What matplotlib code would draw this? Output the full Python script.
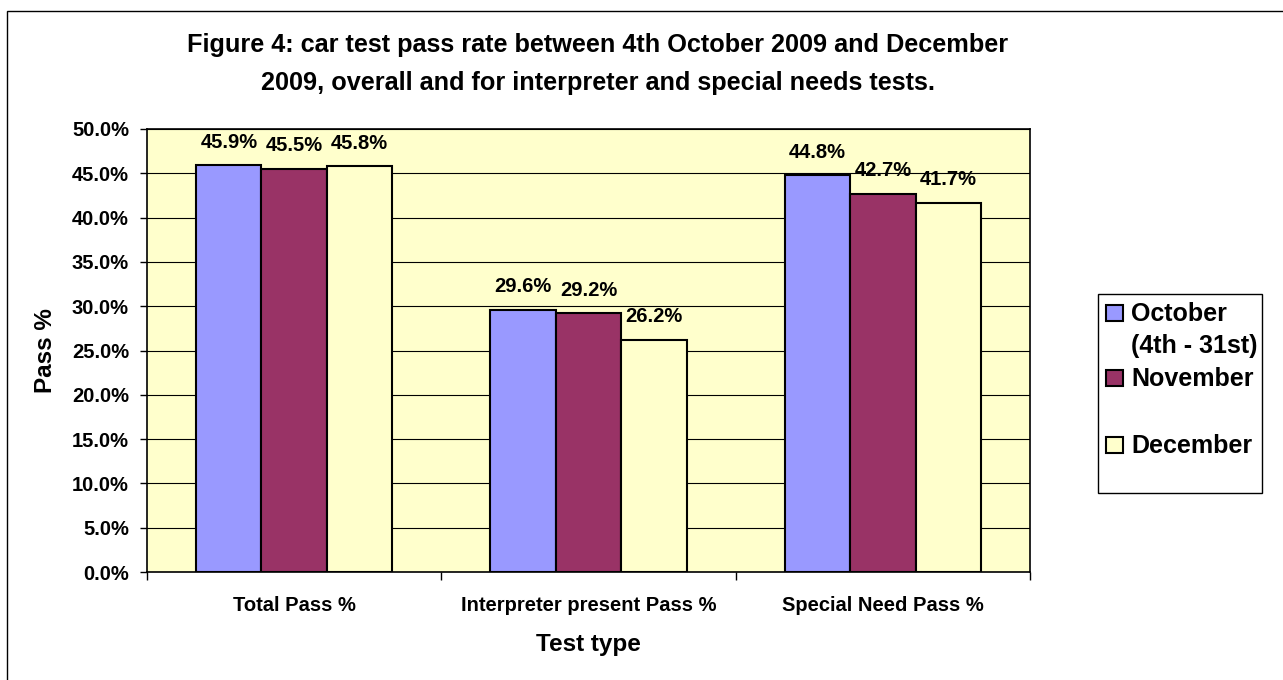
# Se importa numpy
import numpy as np

# Se importa modulo pyplot de matplotlib
import matplotlib.pyplot as plt
from matplotlib.patches import Rectangle
from matplotlib.ticker import FuncFormatter, MultipleLocator

# Fuente parecida a Arial
plt.rcParams['font.family'] = ['Liberation Sans', 'DejaVu Sans']
plt.rcParams['font.weight'] = 'bold'

# Datos
categorias = ['Total Pass %', 'Interpreter present Pass %', 'Special Need Pass %']
meses = ['October\n(4th - 31st)', 'November', 'December']
octubre = [45.9, 29.6, 44.8]
noviembre = [45.5, 29.2, 42.7]
diciembre = [45.8, 26.2, 41.7]
colores = ['#9999FF', '#993366', '#FFFFCC']

# Se crea la figura
fig = plt.figure(figsize=(12.83, 6.8), dpi=100)
ax = fig.add_axes([147 / 1283, 1 - 572 / 680, 883 / 1283, 443 / 680])
ax.set_facecolor('#FFFFCC')

# Barras agrupadas
x = np.arange(len(categorias))
ancho = 0.222
series = [octubre, noviembre, diciembre]
for i, valores in enumerate(series):
    pos = x + (i - 1) * ancho
    barras = ax.bar(pos, valores, ancho, color=colores[i], edgecolor='black',
                    linewidth=1.5, zorder=3)
    # Etiquetas de los valores
    for b, v in zip(barras, valores):
        ax.annotate(f'{v:.1f}%', (b.get_x() + b.get_width() / 2, v),
                    xytext=(0, 16.5), textcoords='offset points',
                    ha='center', va='center', fontsize=14.5, fontweight='bold')

# Eje Y
ax.set_ylim(0, 50)
ax.yaxis.set_major_locator(MultipleLocator(5))
ax.yaxis.set_major_formatter(FuncFormatter(lambda v, p: f'{v:.1f}%'))
ax.grid(axis='y', color='black', linewidth=0.8, zorder=0)
ax.tick_params(axis='y', direction='out', length=5, width=1, labelsize=14.5, pad=8)

# Eje X, marcas en los limites de cada categoria
ax.set_xlim(-0.5, len(categorias) - 0.5)
ax.set_xticks(x)
ax.set_xticklabels(categorias)
ax.set_xticks(np.arange(len(categorias) + 1) - 0.5, minor=True)
ax.tick_params(axis='x', which='major', length=0, labelsize=14.5, pad=17)
ax.tick_params(axis='x', which='minor', direction='out', length=6, width=1)
for lbl in ax.get_xticklabels() + ax.get_yticklabels():
    lbl.set_fontweight('bold')

for s in ax.spines.values():
    s.set_linewidth(1.2)

# Nombres de los ejes
ax.set_xlabel('Test type', fontsize=17.5, fontweight='bold')
ax.xaxis.set_label_coords(0.5, -(644 - 572) / 443)
ax.xaxis.label.set_va('center')
ax.set_ylabel('Pass %', fontsize=17.5, fontweight='bold')
ax.yaxis.set_label_coords((46 - 147) / 883, 0.5)
ax.yaxis.label.set_va('center')

# Titulo
fig.text(598 / 1283, 1 - 64 / 680,
         'Figure 4: car test pass rate between 4th October 2009 and December\n'
         '2009, overall and for interpreter and special needs tests.',
         ha='center', va='center', fontsize=18.2, fontweight='bold',
         linespacing=1.72)

# Leyenda hecha a mano como la de Excel
fig.add_artist(Rectangle((1098 / 1283, 1 - 493 / 680), 164 / 1283, 199 / 680,
                         transform=fig.transFigure, facecolor='white',
                         edgecolor='black', linewidth=1))
filas = [313, 378, 445]
for i, mes in enumerate(meses):
    y = 1 - filas[i] / 680
    fig.add_artist(Rectangle((1106 / 1283, y - 8 / 680), 17 / 1283, 16 / 680,
                             transform=fig.transFigure, facecolor=colores[i],
                             edgecolor='black', linewidth=1.5))
    fig.text(1131 / 1283, y + 11 / 680, mes, ha='left', va='top',
             fontsize=18, fontweight='bold', linespacing=1.42)

# Marco de la figura (solo lados izquierdo y superior visibles)
fig.add_artist(Rectangle((7 / 1283, -0.1), 2, 1.1 - 11 / 680,
                         transform=fig.transFigure, fill=False,
                         edgecolor='black', linewidth=1))

# Se guarda el grafico
fig.savefig('out.png', dpi=100)
